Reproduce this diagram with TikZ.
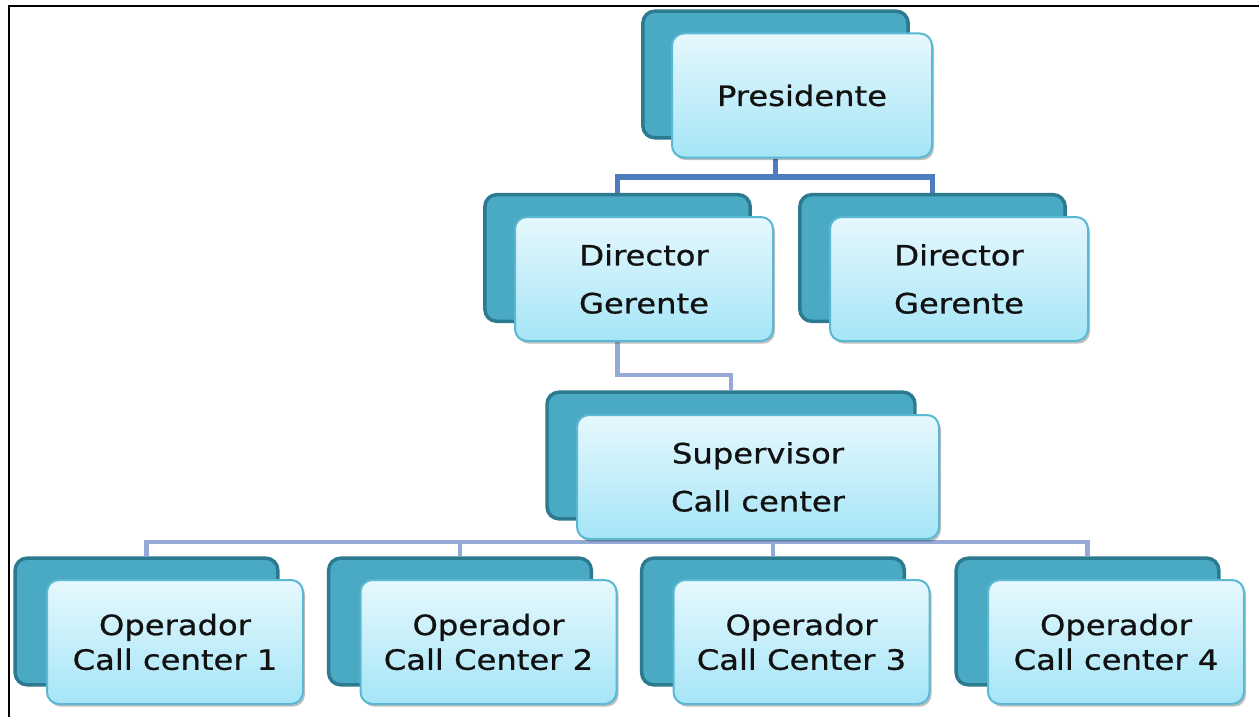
\documentclass[tikz,border=0pt]{standalone}
\usepackage{fontspec}
\setmainfont{DejaVu Sans}[FakeStretch=1.15,FakeBold=0.8]
\usetikzlibrary{shadows,backgrounds}
\definecolor{backfill}{HTML}{4AAAC4}
\definecolor{backline}{HTML}{2B7A90}
\definecolor{fronttop}{HTML}{E6F8FD}
\definecolor{frontbot}{HTML}{A5E5F7}
\definecolor{frontline}{HTML}{5AB8D2}
\definecolor{linkdark}{HTML}{4F7CC1}
\definecolor{linklight}{HTML}{94A9D7}
\definecolor{textc}{HTML}{111111}
\begin{document}
\begin{tikzpicture}[x=0.75pt,y=-0.75pt,
  backbox/.style={draw=backline, line width=2.6pt, fill=backfill, rounded corners=9pt,
    minimum height=95pt, inner sep=0pt},
  frontbox/.style={draw=frontline, line width=1.5pt, top color=fronttop, bottom color=frontbot,
    rounded corners=9pt, minimum height=93pt, inner sep=0pt, align=center, text=textc,
    font=\fontsize{21}{36}\selectfont,
    drop shadow={shadow xshift=1.5pt, shadow yshift=-2pt, opacity=0.25, fill=black}},
  opbox/.style={frontbox, font=\fontsize{21}{26}\selectfont},
  linkhi/.style={draw=linkdark, line width=3.9pt},
  linklo/.style={draw=linklight, line width=3.6pt}]
\useasboundingbox (0,0) rectangle (1259,717);
\draw[line width=1.6pt] (9,717) -- (9,6) -- (1259,6);

% Presidente
\node[backbox, minimum width=199pt] (presB) at (775.5,74.5) {};
\node[frontbox, minimum width=195pt] (pres) at (802,95.5) {Presidente};
% Directors
\node[backbox, minimum width=199pt] (dir1B) at (617.5,258) {};
\node[frontbox, minimum width=193.5pt] (dir1) at (644,279) {Director\\Gerente};
\node[backbox, minimum width=199pt] (dir2B) at (932.5,258) {};
\node[frontbox, minimum width=193.5pt] (dir2) at (959,279) {Director\\Gerente};
% Supervisor
\node[backbox, minimum width=276pt] (supB) at (731,455.5) {};
\node[frontbox, minimum width=271.5pt] (sup) at (758,477) {Supervisor\\Call center};
% Operators
\node[backbox, minimum width=197pt] (op1B) at (146.5,621.5) {};
\node[opbox, minimum width=192pt] (op1) at (175,642) {Operador\\Call center 1};
\node[backbox, minimum width=197pt] (op2B) at (460,621.5) {};
\node[opbox, minimum width=192pt] (op2) at (488.5,642) {Operador\\Call Center 2};
\node[backbox, minimum width=197pt] (op3B) at (773,621.5) {};
\node[opbox, minimum width=192pt] (op3) at (801.5,642) {Operador\\Call Center 3};
\node[backbox, minimum width=197pt] (op4B) at (1087.5,621.5) {};
\node[opbox, minimum width=192pt] (op4) at (1116,642) {Operador\\Call center 4};

\coordinate (j1) at (0,177);
\coordinate (j2) at (0,375);
\coordinate (j3) at (0,542);

\begin{pgfonlayer}{background}
\draw[linkhi] (presB |- pres.south) -- (presB |- j1) -| (dir1B.north);
\draw[linkhi] (presB |- j1) -| (dir2B.north);
\draw[linklo] (dir1B |- dir1.south) -- (dir1B |- j2) -| (supB.north);
\draw[linklo] (supB |- sup.south) -- (supB |- j3) -| (op1B.north);
\draw[linklo] (supB |- j3) -| (op2B.north);
\draw[linklo] (supB |- j3) -| (op3B.north);
\draw[linklo] (supB |- j3) -| (op4B.north);
\end{pgfonlayer}
\end{tikzpicture}
\end{document}
